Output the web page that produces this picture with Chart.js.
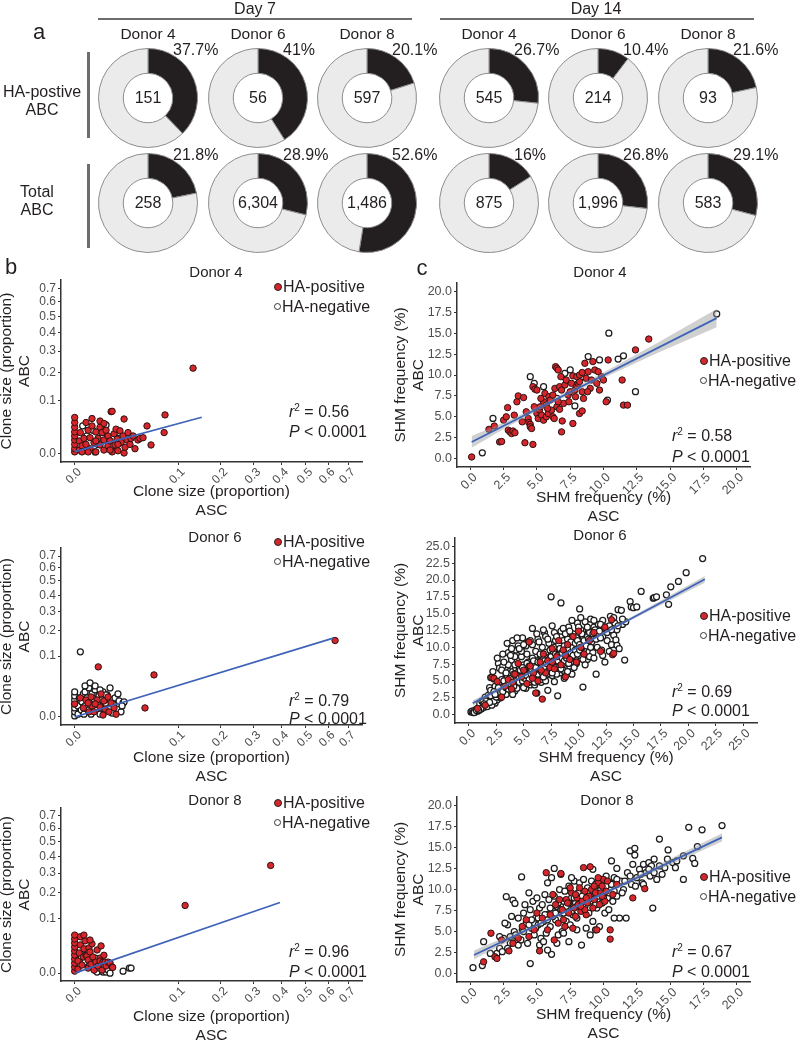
<!DOCTYPE html>
<html lang="en">
<head>
<meta charset="UTF-8">
<title>ABC vs ASC clones - Chart.js</title>
<script src="https://cdn.jsdelivr.net/npm/chart.js"></script>
<style>
  body { margin: 0; background: #fff; overflow: hidden; font-family: "Liberation Sans", Arial, sans-serif; color: #231f20; }
  #page { position: relative; width: 800px; height: 1042px; overflow: hidden; }
  canvas { position: absolute; }
  .t { position: absolute; white-space: nowrap; transform: translate(-50%, -50%); text-align: center; line-height: 18px; }
  .l { transform: translate(0, -50%); text-align: left; }
  .rule { position: absolute; background: #6d6d6d; }
  .dot { display: inline-block; width: 6px; height: 6px; border-radius: 50%; border: 1px solid #222; margin-right: 1px; vertical-align: middle; position: relative; top: -1px; }
  .pos { background: #d7262b; }
  .neg { background: #fff; border: 1.3px solid #333; width: 5px; height: 5px; }
  .sup { font-size: 10px; position: relative; top: -6px; }
</style>
</head>
<body>
<div id="page"></div>
<script>
    // ---------- panel a: share of HA-positive clones among ASC clones
    const dayNames = ['Day 7', 'Day 14'];
    const donorNames = ['Donor 4', 'Donor 6', 'Donor 8', 'Donor 4', 'Donor 6', 'Donor 8'];
    const haPosPct = [37.7, 41, 20.1, 26.7, 10.4, 21.6];
    const haPosCount = ['151', '56', '597', '545', '214', '93'];
    const totalPct = [21.8, 28.9, 52.6, 16, 26.8, 29.1];
    const totalCount = ['258', '6,304', '1,486', '875', '1,996', '583'];

    // ---------- panel b: clone size (proportion), [ASC, ABC]
    const cloneTicks = [0, 0.1, 0.2, 0.3, 0.4, 0.5, 0.6, 0.7];
    const clone4Pos = [[0,.0015],[0,.0045],[0,.0092],[0,.0148],[0,.0206],[0,.0271],[0,.0355],[0,.045],[0,.056],[.0002,.0032],[.0002,.0135],[.0003,.026],[.0005,.0075],[.0008,.017],[.0012,.0092],[.0012,.045],[.0017,.03],[.0022,.0045],[.0022,.018],[.0028,.038],[.0035,.0115],[.0042,.027],[.0042,.0015],[.0051,.017],[.006,.0085],[.006,.0355],[.007,.026],[.008,.0032],[.008,.0148],[.0092,.03],[.0104,.0075],[.0104,.0206],[.0117,.0135],[.0124,.07],[.0131,.071],[.0131,.0015],[.0145,.024],[.0152,.0085],[.016,.032],[.0168,.016],[.0175,.0025],[.0192,.029],[.0201,.0115],[.0219,.0206],[.0228,.0006],[.0228,.0525],[.0237,.006],[.0257,.0148],[.0266,.026],[.0286,.0092],[.0296,.017],[.0319,.0206],[.034,.0045],[.0374,.0148],[.0399,.017],[.0437,.018],[.0489,.038],[.0545,.0085],[.0763,.062],[.0748,.026],[.131,.22],[.0028,.0535],[.006,.048],[.008,.043],[.0042,.0135],[.0017,.0015],[.0005,.0015],[.0117,.0032],[.0175,.0092]];
    const clone4Neg = [[.0001,.0075],[.0006,.038],[.0014,.0206],[.0031,.03],[.0051,.0092],[.007,.018],[.0092,.04],[.011,.0148],[.0138,.0075],[.0184,.026],[.001,.0032],[.0039,.0015]];
    const clone4Fit = [[0,.0017],[.151,.0564]];

    const clone6Pos = [[0,.0046],[.0003,.0098],[.0007,.0022],[.0012,.0078],[.0019,.0007],[.0025,.0108],[.0028,.0033],[.0035,.0007],[.0047,.0078],[.0052,.0678],[.006,.0027],[.0065,.0143],[.0075,.0001],[.008,.0069],[.0086,.0017],[.0104,.0108],[.011,.0007],[.0124,.0053],[.0145,.0022],[.016,.0002],[.0588,.0478],[.0462,.0022],[.0017,.0053],[.0039,.0046],[.634,.158]];
    const clone6Neg = [[0,.00003],[0,.0007],[0,.0022],[0,.0046],[0,.0078],[0,.012],[0,.017],[.0001,.0002],[.0001,.0033],[.0002,.0098],[.0003,.1146],[.0004,.0013],[.0005,.0061],[.0007,.0143],[.0008,.0002],[.001,.0033],[.001,.017],[.0014,.0098],[.0017,.0013],[.0019,.0228],[.0022,.0061],[.0025,.0002],[.0028,.0143],[.0031,.0033],[.0035,.0088],[.0039,.0198],[.0042,.0013],[.0051,.0053],[.0055,.012],[.006,.0002],[.0065,.0027],[.007,.0078],[.0075,.017],[.0086,.001],[.0092,.0046],[.0098,.0131],[.011,.0022],[.0117,.0078],[.0131,.0004],[.0138,.0046],[.0152,.0098],[.0168,.0017],[.0184,.0069],[.0201,.0007],[.0219,.0053],[.0092,.0131],[.001,.026],[.0022,.0314],[.0039,.026],[.006,.0198],[.0117,.0228],[.0175,.0143],[.0228,.0061],[.021,.0033]];
    const clone6Fit = [[0,0],[.625,.168]];

    const clone8Pos = [[0,.001],[0,.0037],[0,.0071],[0,.0114],[0,.0165],[0,.0225],[0,.0292],[0,.0368],[0,.045],[0,.054],[.0001,.0022],[.0001,.0092],[.0002,.0194],[.0003,.033],[.0003,.05],[.0005,.0053],[.0007,.014],[.0008,.026],[.001,.041],[.0012,.0162],[.0014,.0152],[.0017,.0029],[.0017,.0103],[.0019,.0275],[.0022,.021],[.0025,.006],[.0028,.035],[.0031,.014],[.0035,.0016],[.0042,.0081],[.0047,.0241],[.0051,.0045],[.006,.0125],[.006,.0092],[.0065,.0311],[.007,.0016],[.0075,.0081],[.008,.0162],[.0086,.0081],[.0092,.0045],[.0104,.0081],[.0117,.0071],[.0131,.0037],[.0135,.0034],[.114,.147],[.359,.3435],[.0008,.054],[.0022,.0428]];
    const clone8Neg = [[.0001,.0053],[.0004,.014],[.001,.0081],[.0019,.0045],[.0031,.0081],[.0039,.0016],[.0047,.0005],[.0055,.0029],[.0075,.0005],[.0092,.0005],[.0104,.0016],[.0117,0],[.0219,.001],[.0279,.0029],[.0297,.0029],[.0039,.0125],[.0012,.0241]];
    const clone8Fit = [[0,0],[.394,.159]];

    // ---------- panel c: SHM frequency (%), [ASC, ABC]
    const shmTicks20 = [0, 2.5, 5, 7.5, 10, 12.5, 15, 17.5, 20];
    const shmTicks25 = [0, 2.5, 5, 7.5, 10, 12.5, 15, 17.5, 20, 22.5, 25];
    const shm4Pos = [[0.1,0.2],[1.4,3.5],[1.8,3.9],[2.2,2.0],[2.35,2.05],[2.5,4.6],[2.7,5.0],[2.8,6.1],[2.85,3.4],[2.98,3.2],[3.1,3.0],[3.2,3.3],[3.35,3.1],[3.5,6.8],[3.6,7.5],[4.0,7.3],[4.1,1.9],[4.2,5.6],[4.35,4.8],[4.4,4.3],[4.5,4.1],[4.5,3.8],[4.6,3.6],[4.7,1.7],[4.7,8.6],[4.85,8.3],[5.0,8.2],[5.0,5.4],[5.1,4.8],[5.2,5.8],[5.25,6.2],[5.35,5.2],[5.5,4.6],[5.5,6.8],[5.6,7.8],[5.7,6.4],[5.7,5.0],[5.85,5.4],[5.9,7.4],[6.0,7.0],[6.1,5.8],[6.2,5.0],[6.3,4.8],[6.35,8.4],[6.4,11.0],[6.5,10.8],[6.5,6.2],[6.6,10.6],[6.7,5.9],[6.7,8.6],[6.8,9.8],[6.85,8.2],[6.85,3.2],[6.9,4.5],[7.0,6.6],[7.1,8.8],[7.2,9.4],[7.35,7.6],[7.5,8.0],[7.6,9.0],[7.7,9.9],[7.7,4.2],[7.85,8.2],[8.0,8.7],[8.1,9.0],[8.2,9.2],[8.0,9.8],[8.2,10.0],[8.2,5.4],[8.4,5.7],[8.4,8.0],[8.5,7.2],[8.4,10.3],[8.6,11.4],[8.7,9.6],[8.85,10.4],[9.0,8.4],[9.1,9.4],[9.2,11.6],[9.35,10.6],[9.5,9.0],[9.6,10.4],[9.7,8.2],[9.85,9.8],[10.0,9.4],[10.2,6.8],[10.35,11.8],[11.4,9.4],[11.5,6.4],[11.8,6.4],[12.4,13.0],[13.4,14.3],[5.3,7.2],[6.2,7.6],[7.4,6.8],[7.9,7.4],[5.8,6.0],[4.8,6.2],[3.9,4.4],[3.3,5.2],[6.6,6.8],[8.8,8.0]];
    const shm4Neg = [[0.9,0.7],[1.7,4.8],[4.5,9.8],[4.8,9.0],[5.5,8.6],[6.5,7.2],[7.1,10.2],[7.5,10.6],[7.85,6.3],[8.4,9.8],[8.85,12.2],[9.7,11.8],[10.3,7.0],[10.4,15.0],[11.1,11.9],[11.5,12.3],[12.4,8.0],[18.5,17.3]];
    const shm4Fit = [[0.1,2.0],[18.5,16.8]];
    const shm4BandHi = [[0.1,2.7],[3,4.65],[6.5,7.4],[10,10.3],[14,13.8],[18.5,17.9]];
    const shm4BandLo = [[0.1,1.3],[3,4.0],[6.5,6.9],[10,9.65],[14,12.6],[18.5,15.7]];

    const shm6Pos = [[0.8,0.9],[1.5,1.4],[2.1,5.5],[2.3,5.4],[2.6,4.9],[3.0,2.6],[3.3,4.2],[3.6,5.2],[3.9,3.8],[4.2,6.0],[4.5,7.6],[4.8,5.6],[5.0,6.6],[5.3,4.6],[5.5,10.8],[5.6,7.2],[5.9,6.2],[6.1,3.2],[6.3,5.0],[6.5,7.8],[6.7,2.3],[6.8,9.0],[7.0,6.2],[7.2,8.0],[7.4,7.0],[7.6,9.8],[7.8,6.8],[8.0,8.6],[8.2,11.0],[8.4,7.4],[8.6,9.6],[8.8,5.6],[9.0,10.4],[9.2,8.2],[9.5,11.6],[9.8,7.8],[10.0,12.4],[10.2,10.0],[10.5,9.0],[11.0,11.0],[11.4,12.2],[12.0,9.4],[12.4,13.0],[13.1,8.9],[13.2,9.1],[13.0,14.1],[4.0,4.8],[5.8,5.4],[6.6,6.6],[7.6,7.8],[8.8,8.8]];
    const shm6Neg = [[0.2,0.4],[0.3,0.5],[0.4,0.3],[0.5,0.6],[0.6,0.4],[0.7,0.8],[0.8,0.5],[0.9,1.0],[1.0,0.7],[1.1,1.2],[1.2,0.9],[1.3,1.5],[1.4,1.1],[1.5,1.8],[1.6,1.3],[1.7,2.2],[1.8,1.6],[1.9,2.5],[2.0,1.9],[2.1,3.0],[1.9,4.0],[2.0,5.5],[2.3,5.3],[2.2,2.4],[2.4,1.7],[2.5,3.2],[2.6,2.2],[2.7,7.6],[2.8,6.9],[2.9,3.8],[3.0,2.8],[3.1,7.2],[3.2,4.5],[3.3,3.3],[3.4,5.8],[3.5,10.6],[3.6,9.2],[3.7,6.4],[3.8,4.2],[3.9,8.1],[4.0,11.0],[4.1,5.0],[4.2,3.5],[4.3,9.6],[4.4,7.3],[4.5,10.2],[4.6,6.0],[4.7,4.6],[4.8,8.6],[4.9,11.4],[5.0,5.6],[5.1,7.0],[5.2,3.9],[5.3,9.0],[5.4,10.8],[5.5,6.6],[5.6,4.4],[5.7,8.0],[5.8,12.8],[5.9,7.6],[6.0,5.2],[6.1,9.4],[6.2,3.2],[6.3,11.2],[6.4,6.8],[6.5,8.4],[6.6,4.8],[6.7,10.0],[6.8,7.2],[6.9,12.2],[7.0,5.8],[7.1,8.8],[7.2,3.6],[7.3,10.6],[7.4,6.4],[7.5,17.5],[7.5,9.2],[7.6,13.2],[7.7,7.6],[7.8,4.9],[7.9,11.0],[8.0,8.2],[8.1,2.8],[8.2,9.6],[8.3,6.2],[8.4,16.6],[8.4,12.4],[8.5,7.8],[8.6,10.4],[8.7,5.4],[8.8,9.0],[8.9,11.8],[9.0,7.0],[9.1,13.0],[9.2,8.6],[9.3,10.0],[9.4,6.0],[9.5,12.0],[9.6,9.4],[9.7,11.0],[9.8,7.6],[9.9,13.6],[10.0,10.2],[10.1,15.7],[10.1,8.8],[10.2,12.6],[10.3,11.4],[10.4,4.1],[10.5,9.8],[10.6,13.8],[10.7,11.8],[10.8,8.2],[10.9,12.4],[11.0,10.6],[11.1,14.2],[11.2,11.2],[11.3,9.2],[11.4,13.0],[11.5,12.0],[11.6,6.0],[11.7,10.0],[11.8,13.4],[11.9,11.6],[12.0,12.8],[12.1,9.6],[12.2,14.0],[12.3,12.2],[12.4,7.8],[12.5,13.0],[12.6,11.0],[12.8,12.6],[12.9,14.6],[13.0,10.4],[13.2,11.8],[13.3,13.6],[13.4,11.1],[13.5,12.6],[13.5,10.3],[13.6,15.6],[13.7,9.8],[13.9,15.5],[14.0,13.4],[14.2,8.1],[14.3,13.8],[14.7,16.8],[14.8,16.0],[15.0,15.9],[15.3,16.0],[15.7,18.3],[16.8,17.3],[16.9,17.4],[17.1,17.5],[18.0,17.8],[18.2,16.4],[18.4,19.0],[19.1,19.8],[19.8,21.1],[21.3,23.2],[1.0,1.6],[1.2,2.0],[1.5,2.6],[1.8,2.9],[2.0,3.6],[2.2,3.0],[2.4,4.2],[2.6,3.6],[2.8,4.6],[3.0,4.0],[3.0,5.2],[3.2,3.6],[3.3,4.8],[3.5,4.2],[3.5,5.6],[3.7,5.0],[3.8,6.0],[4.0,4.6],[4.0,6.4],[4.2,5.4],[4.3,6.8],[4.5,5.8],[4.5,4.4],[4.6,7.0],[4.8,5.2],[4.8,6.4],[5.0,6.0],[5.0,7.4],[5.2,5.0],[5.2,6.8],[5.4,6.2],[5.4,7.8],[5.6,5.6],[5.6,7.0],[5.8,6.4],[5.8,8.4],[6.0,6.0],[6.0,7.4],[6.2,6.6],[6.2,8.0],[6.4,5.6],[6.4,7.6],[6.6,7.0],[6.6,8.8],[6.8,6.4],[6.8,8.2],[7.0,7.4],[7.0,9.2],[7.2,6.8],[7.2,8.4],[7.4,7.8],[7.4,9.6],[7.6,7.0],[7.6,8.8],[7.8,8.2],[7.8,10.0],[8.0,7.4],[8.0,9.2],[8.2,8.6],[8.2,10.4],[8.4,7.8],[8.4,9.4],[8.6,8.8],[8.6,11.0],[8.8,8.2],[8.8,10.0],[9.0,9.4],[9.0,11.2],[9.2,9.8],[9.4,8.6],[9.4,10.6],[9.6,10.2],[9.8,9.4],[9.8,11.4],[10.0,10.8],[10.2,9.6],[10.4,11.2],[10.6,10.4],[10.8,11.6],[11.0,12.2],[11.2,10.8],[11.5,12.6],[11.8,12.0],[12.0,13.4],[12.4,12.8],[12.8,13.2],[2.9,2.5],[3.4,3.0],[3.9,3.4],[4.4,3.9],[4.9,4.3],[5.5,4.8],[6.0,4.4],[6.6,5.2],[7.0,5.0],[7.6,5.8],[8.0,6.0],[8.6,6.6],[9.2,7.2],[9.8,7.8],[10.4,8.2],[11.0,8.6],[3.0,6.6],[3.6,7.4],[4.2,8.6],[4.8,9.4],[5.2,10.2],[5.8,10.4],[6.4,10.8],[7.0,11.6],[7.8,12.2],[8.6,12.8],[9.4,14.0],[10.2,14.4],[2.2,6.4],[2.6,8.4],[3.1,9.0],[3.9,9.8],[4.4,11.4],
        [1.1,0.9],[1.3,1.9],[1.6,2.0],[1.7,1.2],[2.0,2.8],[2.1,1.4],[2.3,2.0],[2.3,3.4],[2.5,2.6],[2.7,3.0],[2.7,4.0],[2.9,3.2],[3.1,3.4],[3.2,5.0],[3.4,4.0],[3.4,6.2],[3.6,3.8],[3.6,4.6],[3.8,5.4],[3.9,4.4],[4.1,4.2],[4.1,6.0],[4.2,7.4],[4.4,5.0],[4.4,6.2],[4.6,4.8],[4.6,5.6],[4.7,6.6],[4.9,5.0],[4.9,7.0],[5.1,5.4],[5.1,6.4],[5.3,5.8],[5.3,7.6],[5.5,5.2],[5.5,7.2],[5.7,6.0],[5.7,6.8],[5.9,5.6],[5.9,8.0],[6.1,6.4],[6.1,7.0],[6.3,6.0],[6.3,7.8],[6.5,6.6],[6.5,9.0],[6.7,7.4],[6.7,6.2],[6.9,8.0],[6.9,7.0],[7.1,6.0],[7.1,7.6],[7.3,8.2],[7.3,6.6],[7.5,7.2],[7.5,8.6],[7.7,8.0],[7.7,9.4],[7.9,7.0],[7.9,9.0],[8.1,8.0],[8.1,8.8],[8.3,7.2],[8.3,9.8],[8.5,8.4],[8.5,9.2],[8.7,8.0],[8.7,10.2],[8.9,9.0],[8.9,8.4],[9.1,9.8],[9.1,7.6],[9.3,9.2],[9.3,10.8],[9.5,8.8],[9.5,10.0],[9.7,9.6],[9.7,10.6],[9.9,9.0],[9.9,11.0],[10.1,10.4],[10.1,9.6],[10.3,10.0],[10.3,12.0],[10.5,11.0],[10.7,10.2],[10.9,11.2],[11.1,10.0],[11.3,12.0],[11.6,11.2],[11.9,12.4],[12.2,11.6],[12.6,12.2],[13.0,12.6],[13.2,14.4],[13.6,13.2],[14.0,14.2],[4.0,3.0],[5.0,4.0],[6.0,4.8],[6.8,5.6],[7.6,6.2],[8.4,6.8],[9.0,6.4],[9.6,7.0],[10.6,7.4],[11.4,8.4],[12.2,8.8],[12.8,9.4],[3.2,7.8],[3.8,8.8],[4.6,9.8],[5.0,10.4],[5.6,11.0],[6.2,12.0],[6.8,12.6],[7.2,11.2],[8.0,11.6],[8.8,12.0],[9.2,12.4],[10.0,13.0],[10.8,13.0],[11.4,14.0],[12.0,11.4],[0.5,0.3],[0.7,0.6],[0.9,0.7],[1.4,1.6],[1.9,1.8],[2.4,3.0]];
    const shm6Fit = [[0.36,1.7],[21.5,20.1]];
    const shm6BandHi = [[0.36,2.1],[8,8.5],[15,14.7],[21.5,20.6]];
    const shm6BandLo = [[0.36,1.3],[8,8.2],[15,14.2],[21.5,19.6]];

    const shm8Pos = [[1.0,1.4],[1.55,4.8],[1.85,2.0],[2.0,1.8],[2.35,4.0],[2.9,2.7],[3.2,3.6],[3.6,4.2],[4.2,6.4],[4.4,4.4],[4.8,5.2],[5.2,2.7],[5.4,6.6],[5.7,12.0],[5.8,5.2],[6.0,7.0],[6.3,4.0],[6.4,8.2],[6.6,6.0],[6.8,11.9],[6.9,7.6],[7.1,5.6],[7.2,8.8],[7.4,7.2],[7.6,9.6],[7.7,5.4],[7.8,7.8],[8.0,9.0],[8.1,8.2],[8.2,10.2],[8.3,7.4],[8.4,8.6],[8.5,12.6],[8.6,9.8],[8.7,7.0],[8.8,8.4],[8.9,9.2],[9.0,12.7],[9.1,10.0],[9.2,7.8],[9.3,8.8],[9.4,9.6],[9.5,5.2],[9.6,10.8],[9.7,8.2],[9.8,9.6],[9.9,10.4],[10.0,11.2],[10.1,8.6],[10.2,9.8],[10.3,11.0],[10.5,5.2],[10.5,4.1],[10.7,9.4],[11.0,10.6],[12.2,9.0],[13.1,10.1],[6.2,9.4],[5.0,7.2],[3.9,5.6],[7.0,6.4],[7.9,6.8],[8.6,7.6],[9.6,11.4],[7.3,8.4],[7.9,9.4],[8.3,8.0],[8.7,9.0],[9.3,10.4],[9.9,9.2],[6.7,8.8],[7.5,10.2]];
    const shm8Neg = [[0.2,0.7],[0.9,0.95],[1.0,3.8],[1.5,2.4],[1.9,2.0],[2.0,2.4],[2.2,3.0],[2.4,2.6],[2.5,4.2],[2.7,9.15],[2.8,5.8],[3.1,6.8],[3.2,8.75],[3.35,8.35],[3.5,4.0],[3.6,3.4],[3.85,11.5],[3.9,5.2],[4.0,7.2],[4.2,6.0],[4.3,3.6],[4.5,1.2],[4.5,7.6],[4.6,5.4],[4.7,8.6],[4.8,4.6],[4.9,6.6],[5.0,9.0],[5.1,5.8],[5.2,7.8],[5.3,4.2],[5.4,8.2],[5.5,6.2],[5.6,9.4],[5.7,4.8],[5.8,7.0],[5.9,8.8],[6.0,5.6],[6.1,11.4],[6.1,2.3],[6.2,7.4],[6.3,12.5],[6.3,9.2],[6.4,6.4],[6.5,8.0],[6.6,4.6],[6.7,10.0],[6.8,11.8],[6.8,7.2],[6.9,5.0],[7.0,8.6],[7.1,9.8],[7.2,6.2],[7.3,7.8],[7.4,10.4],[7.5,5.8],[7.6,9.0],[7.7,7.0],[7.8,11.0],[7.9,8.4],[8.0,6.6],[8.1,9.6],[8.2,10.8],[8.35,3.4],[8.4,7.6],[8.5,11.2],[8.6,8.8],[8.7,5.4],[8.8,10.2],[8.9,7.2],[9.0,9.4],[9.1,11.0],[9.2,6.2],[9.3,8.6],[9.4,10.6],[9.5,7.8],[9.6,9.8],[9.7,5.6],[9.8,11.2],[9.9,8.4],[10.0,10.0],[10.1,7.2],[10.2,11.6],[10.3,9.0],[10.4,7.6],[10.5,10.8],[10.6,13.4],[10.7,8.6],[10.8,11.4],[11.0,12.5],[11.0,9.2],[11.2,6.6],[11.3,11.0],[11.5,10.0],[11.7,6.6],[11.8,12.0],[12.0,14.6],[12.1,10.6],[12.2,13.0],[12.35,14.9],[12.35,14.1],[12.5,11.4],[12.7,12.4],[12.9,10.8],[13.0,13.0],[13.2,12.0],[13.4,13.2],[13.5,11.6],[13.6,12.8],[13.7,7.8],[13.8,13.6],[14.0,11.2],[14.2,16.0],[14.4,11.8],[14.6,12.6],[14.85,14.7],[15.2,13.2],[15.5,13.4],[16.0,11.2],[16.0,14.0],[16.4,17.4],[16.7,13.7],[16.85,13.1],[17.05,15.1],[17.4,17.1],[18.9,17.6],[3.0,4.4],[3.3,5.0],[5.2,3.4],[5.8,2.8],[7.0,4.8],[7.4,3.8],[9.4,5.2],[2.6,6.0],[3.6,6.6],[4.1,8.2],
        [3.0,3.6],[3.4,4.6],[3.8,4.0],[4.0,5.0],[4.4,5.8],[4.6,6.4],[4.9,5.4],[5.1,6.6],[5.3,6.0],[5.6,7.0],[5.8,6.4],[6.0,7.8],[6.2,6.8],[6.4,7.2],[6.6,8.4],[6.8,7.6],[7.0,7.2],[7.2,8.0],[7.4,8.4],[7.6,7.4],[7.8,9.0],[8.0,8.0],[8.2,8.6],[8.4,9.2],[8.6,8.0],[8.8,9.6],[9.0,8.6],[9.2,9.8],[9.4,8.2],[9.6,9.2],[9.8,10.0],[10.0,9.0],[10.2,10.4],[10.4,9.6],[10.6,10.6],[10.8,9.8],[11.0,11.2],[11.4,9.6],[11.6,11.0],[12.0,11.6],[12.4,10.4],[12.8,11.8],[13.0,10.6],[13.4,12.4],[13.8,12.0],[14.2,12.8],[14.8,13.6],[15.4,12.6],[2.2,4.4],[2.8,3.0],[5.5,3.8],[6.5,3.6],[8.0,5.2],[9.0,4.6],[10.8,6.6],[4.4,9.6],[5.8,10.8],[7.6,11.4],[9.2,12.4]];
    const shm8Fit = [[0.28,2.2],[18.9,16.2]];
    const shm8BandHi = [[0.28,2.75],[5,5.95],[9,8.92],[14,12.85],[18.9,16.7]];
    const shm8BandLo = [[0.28,1.7],[5,5.55],[9,8.6],[14,12.2],[18.9,15.7]];

    const cloneR2 = ['0.56', '0.79', '0.96'];
    const shmR2 = ['0.58', '0.69', '0.67'];

    // ---------- helpers
    Chart.defaults.font.family = '"Liberation Sans", Arial, sans-serif';
    Chart.defaults.color = '#4d4d4d';
    const page = document.getElementById('page');

    // square-root axis (with a small shift), like the ggplot sqrt transform
    class SqrtScale extends Chart.LinearScale {
        tf(v) {
            const c = this.options.shift || 0;
            return Math.sqrt(Math.max(v, 0) + c) - Math.sqrt(c);
        }
        configure() {
            super.configure();
            const a = this.tf(this.min), b = this.tf(this.max), pad = (b - a) * 0.05;
            this._tLo = a - pad;
            this._tHi = b + pad;
        }
        getPixelForValue(v) {
            return this.getPixelForDecimal((this.tf(v) - this._tLo) / (this._tHi - this._tLo));
        }
        getValueForPixel(p) {
            const c = this.options.shift || 0;
            const s = this._tLo + this.getDecimalForPixel(p) * (this._tHi - this._tLo) + Math.sqrt(c);
            return s * s - c;
        }
    }
    SqrtScale.id = 'sqrtish';
    SqrtScale.defaults = Chart.LinearScale.defaults;
    Chart.register(SqrtScale);

    function text(x, y, html, cls, style) {
        const d = document.createElement('div');
        d.className = 't ' + (cls || '');
        d.innerHTML = html;
        d.style.left = x + 'px';
        d.style.top = y + 'px';
        if (style) d.style.cssText += style;
        page.appendChild(d);
    }
    function rule(l, t, w, h) {
        const d = document.createElement('div');
        d.className = 'rule';
        d.style.cssText += `left:${l}px;top:${t}px;width:${w}px;height:${h}px`;
        page.appendChild(d);
    }
    function canvasAt(l, t, w, h) {
        const cv = document.createElement('canvas');
        cv.width = w; cv.height = h;
        cv.style.left = l + 'px'; cv.style.top = t + 'px';
        page.appendChild(cv);
        return cv;
    }

    // ---------- panel a
    const donutX = [148, 258, 367, 489, 598, 708];
    const donutY = [98, 203];

    function donut(cx, cy, pct, count) {
        const cv = canvasAt(cx - 80, cy - 60, 160, 120);
        new Chart(cv, {
            type: 'doughnut',
            data: { datasets: [{ data: [pct, 100 - pct], backgroundColor: ['#231f20', '#ebebeb'], borderColor: '#8c8c8c', borderWidth: 1 }] },
            options: {
                responsive: false, animation: false, cutout: '50%',
                layout: { padding: { left: 30, right: 30, top: 10, bottom: 10 } },
                plugins: { legend: { display: false }, tooltip: { enabled: false } }
            },
            plugins: [{
                id: 'donutText',
                afterDraw(chart) {
                    const arc = chart.getDatasetMeta(0).data[0];
                    const ctx = chart.ctx;
                    ctx.save();
                    ctx.fillStyle = '#231f20';
                    ctx.font = '16px "Liberation Sans", Arial, sans-serif';
                    ctx.textBaseline = 'middle';
                    ctx.textAlign = 'center';
                    ctx.fillText(count, arc.x, arc.y + 1);
                    ctx.textAlign = 'left';
                    ctx.fillText(pct + '%', arc.x + 25, arc.y - 47);
                    ctx.restore();
                }
            }]
        });
    }
    for (let i = 0; i < 6; i++) {
        donut(donutX[i], donutY[0], haPosPct[i], haPosCount[i]);
        donut(donutX[i], donutY[1], totalPct[i], totalCount[i]);
        text(donutX[i], 34, donorNames[i], '', 'font-size:15.5px');
    }
    text(255, 9, dayNames[0], '', 'font-size:16px');
    text(596, 9, dayNames[1], '', 'font-size:16px');
    rule(98, 18, 314, 1.5);
    rule(440, 18, 314, 1.5);
    text(39, 32, 'a', '', 'font-size:22px');
    text(42, 101, 'HA-postive<br>ABC', '', 'font-size:16px');
    text(37, 201, 'Total<br>ABC', '', 'font-size:16px');
    rule(87, 52, 2.5, 86);
    rule(87, 164, 2.5, 84);

    // ---------- panels b and c
    function axis(a, size, horiz) {
        return {
            type: a.type, min: a.min, max: a.max, shift: a.shift,
            afterBuildTicks: s => { s.ticks = a.ticks.map(v => ({ value: v })); },
            afterFit: s => { if (horiz) s.height = size; else s.width = size; },
            border: { display: true, color: '#333', width: 1.5 },
            grid: { display: true, drawOnChartArea: false, drawTicks: true, tickLength: 3, color: '#333' },
            ticks: {
                autoSkip: false, color: '#4d4d4d', font: { size: a.font }, padding: horiz ? 0 : 2,
                labelOffset: horiz ? 5 : 0,
                minRotation: horiz ? 45 : 0, maxRotation: horiz ? 45 : 0,
                callback: v => v.toFixed(1)
            },
            title: { display: true, text: a.title, color: '#231f20', font: { size: 15.5 }, padding: 0 }
        };
    }
    const pts = arr => arr.map(p => ({ x: p[0], y: p[1] }));

    function scatter(box, xAx, yAx, pos, neg, fit, hi, lo) {
        const ds = [{ type: 'line', data: pts(fit), borderColor: '#3f63b8', borderWidth: 1.7, pointRadius: 0, fill: false, order: 0 }];
        if (hi) {
            ds.push({ type: 'line', data: pts(hi), borderWidth: 0, pointRadius: 0, backgroundColor: 'rgba(150,150,150,0.45)', fill: '+1', order: 1 });
            ds.push({ type: 'line', data: pts(lo), borderWidth: 0, pointRadius: 0, fill: false, order: 2 });
        }
        ds.push({ data: pts(pos), backgroundColor: '#d7262b', borderColor: '#2a1212', borderWidth: 1, pointRadius: 3.2, order: 3 });
        ds.push({ data: pts(neg), backgroundColor: '#ffffff', borderColor: '#1c1c1c', borderWidth: 1.25, pointRadius: 3, order: 4 });
        const cv = canvasAt(box.l, box.t, box.w, box.h);
        new Chart(cv, {
            type: 'scatter',
            data: { datasets: ds },
            options: {
                responsive: false, animation: false,
                layout: { padding: { top: 10, right: 10 } },
                plugins: { legend: { display: false }, tooltip: { enabled: false } },
                scales: { x: axis(xAx, box.xh, true), y: axis(yAx, box.yw, false) }
            }
        });
    }

    const cloneX = { type: 'sqrtish', min: 0, max: 0.7, shift: 0, ticks: cloneTicks, font: 12, title: ['Clone size (proportion)', 'ASC'] };
    const cloneY = s => ({ type: 'sqrtish', min: 0, max: 0.7, shift: s, ticks: cloneTicks, font: 12, title: ['Clone size (proportion)', 'ABC'] });
    const shmAx = (lo, hi, ticks, ttl) => ({ type: 'linear', min: lo, max: hi, ticks: ticks, font: 12.5, title: ['SHM frequency (%)', ttl] });

    scatter({ l: -3, t: 270, w: 375, h: 250, yw: 64, xh: 58 }, cloneX, cloneY(0.0075), clone4Pos, clone4Neg, clone4Fit);
    scatter({ l: -3, t: 538, w: 375, h: 248, yw: 64, xh: 61 }, cloneX, cloneY(0), clone6Pos, clone6Neg, clone6Fit);
    scatter({ l: -3, t: 798, w: 375, h: 247, yw: 64, xh: 64 }, cloneX, cloneY(0.002), clone8Pos, clone8Neg, clone8Fit);
    scatter({ l: 391, t: 273, w: 369, h: 253, yw: 66, xh: 59 }, shmAx(-1, 21, shmTicks20, 'ASC'), shmAx(-1, 21, shmTicks20, 'ABC'), shm4Pos, shm4Neg, shm4Fit, shm4BandHi, shm4BandLo);
    scatter({ l: 391, t: 528, w: 376, h: 258, yw: 64, xh: 63 }, shmAx(-1.25, 26.25, shmTicks25, 'ASC'), shmAx(-1.25, 26.25, shmTicks25, 'ABC'), shm6Pos, shm6Neg, shm6Fit, shm6BandHi, shm6BandLo);
    scatter({ l: 391, t: 787, w: 369, h: 256, yw: 66, xh: 61 }, shmAx(-1, 21, shmTicks20, 'ASC'), shmAx(-1, 21, shmTicks20, 'ABC'), shm8Pos, shm8Neg, shm8Fit, shm8BandHi, shm8BandLo);

    // titles, legends and fit statistics
    text(11, 267, 'b', '', 'font-size:22px');
    text(422, 268, 'c', '', 'font-size:22px');
    const titleB = [[216, 272], [215, 537], [215, 800]];
    const titleC = [[600, 272], [600, 535], [607, 800]];
    const legB = [287, 542, 803];
    const legC = [361, 616, 877];
    const statB = [[413, 432], [702, 719], [953, 972]];
    const statC = [[437, 457], [693, 711], [953, 972]];
    const names = ['Donor 4', 'Donor 6', 'Donor 8'];
    for (let i = 0; i < 3; i++) {
        text(titleB[i][0], titleB[i][1], names[i], '', 'font-size:15px');
        text(titleC[i][0], titleC[i][1], names[i], '', 'font-size:15px');
        [[274, legB[i]], [700, legC[i]]].forEach(([x, y]) => {
            text(x, y, '<span class="dot pos"></span>HA-positive', 'l', 'font-size:16px');
            text(x, y + 20, '<span class="dot neg"></span>HA-negative', 'l', 'font-size:16px');
        });
        text(289, statB[i][0], '<i>r</i><span class="sup">2</span> = ' + cloneR2[i], 'l', 'font-size:16px');
        text(289, statB[i][1], '<i>P</i> &lt; 0.0001', 'l', 'font-size:16px');
        text(672, statC[i][0], '<i>r</i><span class="sup">2</span> = ' + shmR2[i], 'l', 'font-size:16px');
        text(672, statC[i][1], '<i>P</i> &lt; 0.0001', 'l', 'font-size:16px');
    }
</script>
</body>
</html>
